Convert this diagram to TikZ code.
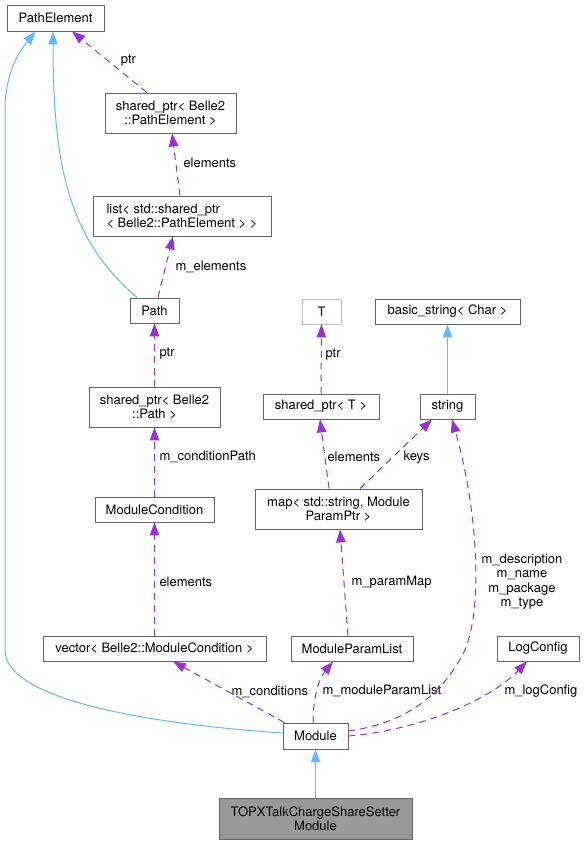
\documentclass[tikz,border=0pt]{standalone}
\usepackage{fontspec}
\setmainfont{TeX Gyre Heros}
\usetikzlibrary{arrows.meta,calc}
\definecolor{inhblue}{HTML}{63B8FF}
\definecolor{usepurple}{HTML}{9A32CD}
\definecolor{boxgray}{HTML}{666666}
\definecolor{lightgray}{HTML}{BFBFBF}
\definecolor{fillgray}{HTML}{999999}
\tikzset{
  box/.style={draw=boxgray, line width=0.9pt, fill=white, rectangle, inner sep=0pt,
    align=center, font=\fontsize{13}{14}\selectfont},
  inh/.style={draw=inhblue, line width=1pt, -{Triangle[length=13pt,width=9.5pt]}},
  dep/.style={draw=usepurple, line width=1pt, dash pattern=on 7pt off 5pt,
    -{Triangle[length=13pt,width=9.5pt]}},
  lbl/.style={font=\fontsize{13}{14.5}\selectfont, inner sep=0pt, text=black},
}
\begin{document}
\begin{tikzpicture}[x=1pt,y=-1pt]
\useasboundingbox (0,0) rectangle (585,844);
% nodes
\node[box, minimum width=97pt, minimum height=26pt] (pe) at (55.5,18) {PathElement};
\node[box, minimum width=131pt, minimum height=40pt] (spe) at (170.5,113) {shared\_ptr< Belle2\\::PathElement >};
\node[box, minimum width=178pt, minimum height=40pt, align=left] (lst) at (182,216) {list< std::shared\_ptr\\< Belle2::PathElement > >};
\node[box, minimum width=49pt, minimum height=25pt] (path) at (154.5,310.5) {Path};
\node[box, minimum width=131pt, minimum height=40pt] (spp) at (154.5,407) {shared\_ptr< Belle2\\::Path >};
\node[box, minimum width=119pt, minimum height=25pt] (mc) at (154.5,509.5) {ModuleCondition};
\node[box, minimum width=223pt, minimum height=25pt] (vec) at (154.5,648.5) {vector< Belle2::ModuleCondition >};
\node[box, minimum width=122pt, minimum height=25pt] (mpl) at (352,648.5) {ModuleParamList};
\node[box, minimum width=82pt, minimum height=25pt] (lc) at (538,648.5) {LogConfig};
\node[box, minimum width=65pt, minimum height=26pt] (mod) at (315.5,736) {Module};
\node[box, fill=fillgray, minimum width=193pt, minimum height=41pt] (topx) at (315.5,818.5) {TOPXTalkChargeShareSetter\\Module};
\node[box, draw=lightgray, minimum width=39pt, minimum height=25pt] (t) at (321.5,311.5) {T};
\node[box, minimum width=145pt, minimum height=25pt] (bs) at (447.5,311.5) {basic\_string< Char >};
\node[box, minimum width=116pt, minimum height=25pt] (spt) at (321,406.5) {shared\_ptr< T >};
\node[box, minimum width=55pt, minimum height=25pt] (str) at (447.5,406.5) {string};
\node[box, minimum width=167pt, minimum height=40pt] (map) at (338.5,509) {map< std::string, Module\\ParamPtr >};

% inheritance edges
\draw[inh] ([xshift=-17.5pt]path.north) .. controls (70,240) and (53,170) .. ([xshift=-2.5pt]pe.south);
\draw[inh] ([yshift=3pt]mod.west) .. controls (150,724) and (5,700) .. (5,650) -- (5,110) .. controls (5,70) and (22,48) .. ([xshift=-20pt]pe.south);
\draw[inh, line width=1.4pt] (str.north) -- (bs.south);
\draw[inh, line width=1.4pt] (topx.north) -- (mod.south);

% usage edges
\draw[dep] ([xshift=-23.5pt]spe.north) -- ([xshift=16.5pt]pe.south)
  node[lbl] (l1) at (128.5,61) {ptr};
\draw[dep] ([xshift=-2pt]lst.north) -- ([xshift=1.5pt]spe.south)
  node[lbl, anchor=west] (l2) at (183,163) {elements};
\draw[dep] ([xshift=3.5pt]path.north) -- ([xshift=-9pt]lst.south)
  node[lbl, anchor=west] (l3) at (175,267) {m\_elements};
\draw[dep] (spp.north) -- (path.south)
  node[lbl, anchor=west] (l4) at (159,354) {ptr};
\draw[dep] (mc.north) -- (spp.south)
  node[lbl, anchor=west] (l5) at (159,457) {m\_conditionPath};
\draw[dep] (vec.north) -- (mc.south)
  node[lbl, anchor=west] (l6) at (159,582) {elements};
\draw[dep] (spt.north) -- (t.south)
  node[lbl, anchor=west] (l7) at (325,355) {ptr};
\draw[dep] ([xshift=-9.5pt]map.north) -- ([xshift=-1pt]spt.south)
  node[lbl, anchor=west] (l8) at (327,457) {elements};
\draw[dep] ([xshift=21.5pt]map.north) -- ([xshift=-15.5pt]str.south)
  node[lbl, anchor=west] (l9) at (403,457) {keys};
\draw[dep] ([xshift=-4pt]mpl.north) -- ([xshift=1.5pt]map.south)
  node[lbl, anchor=west] (l10) at (351,582) {m\_paramMap};
\draw[dep] ([xshift=-31pt]mod.north) -- ([xshift=18.5pt]vec.south)
  node[lbl, anchor=west] (l11) at (231,692) {m\_conditions};
\draw[dep] ([xshift=-2.5pt]mod.north) .. controls (313,700) and (318,680) .. ([xshift=-19pt]mpl.south)
  node[lbl, anchor=west] (l12) at (322,691) {m\_moduleParamList};
\draw[dep] ([yshift=0pt]mod.east) .. controls (420,730) and (490,700) .. ([xshift=-11pt]lc.south)
  node[lbl, anchor=west] (l13) at (504,691) {m\_logConfig};
\draw[dep] ([yshift=5pt]mod.east) .. controls (400,724) and (440,700) .. (465,650)
  .. controls (485,600) and (475,500) .. ([xshift=4.5pt]str.south)
  node[lbl, align=center] (l14) at (522,581.5) {m\_description\\m\_name\\m\_package\\m\_type};
\end{tikzpicture}
\end{document}
